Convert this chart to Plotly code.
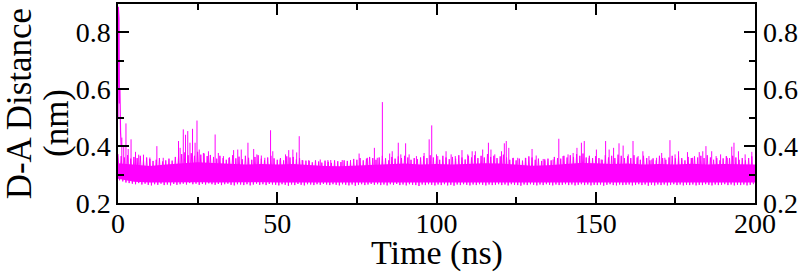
import plotly.graph_objects as go

# ---- data ----
# initial transient (ns, nm)
t_start = [0.0, 0.1, 0.2, 0.3, 0.45, 0.6, 0.8, 1.0]
v_start = [0.50, 0.89, 0.62, 0.85, 0.55, 0.60, 0.45, 0.40]

# upper fringe of the trace, one value per ns (t = 0..199)
upper = [
    .372, .365, .360, .368, .356, .362, .358, .366, .352, .360,
    .355, .348, .352, .358, .346, .350, .356, .349, .362, .365,
    .372, .378, .368, .375, .366, .380, .370, .374, .365, .369,
    .362, .356, .366, .358, .352, .360, .368, .357, .363, .354,
    .366, .359, .352, .362, .368, .356, .351, .360, .366, .357,
    .352, .358, .350, .364, .360, .362, .353, .358, .350, .349,
    .348, .343, .350, .346, .342, .349, .345, .341, .350, .347,
    .344, .350, .348, .346, .355, .352, .358, .350, .356, .362,
    .358, .352, .360, .366, .357, .350, .362, .356, .364, .358,
    .366, .360, .352, .358, .354, .360, .365, .358, .368, .360,
    .358, .352, .366, .360, .354, .362, .356, .368, .360, .353,
    .366, .360, .368, .358, .366, .360, .372, .362, .366, .358,
    .364, .370, .360, .352, .358, .350, .356, .349, .358, .364,
    .360, .352, .356, .348, .350, .356, .350, .362, .358, .356,
    .366, .360, .368, .362, .372, .366, .374, .360, .366, .358,
    .365, .358, .352, .368, .360, .366, .358, .370, .366, .358,
    .364, .358, .368, .360, .352, .366, .358, .350, .357, .350,
    .366, .358, .352, .360, .366, .357, .364, .358, .350, .362,
    .358, .364, .360, .366, .358, .368, .360, .352, .358, .350,
    .357, .365, .358, .366, .360, .352, .358, .350, .358, .364,
]

# lower fringe of the trace, one value per ns (t = 0.5..199.5)
lower = [
    .280, .276, .272, .270, .268, .266, .270, .265, .268, .264,
    .262, .266, .264, .268, .263, .265, .262, .267, .264, .266,
    .268, .265, .270, .266, .268, .264, .267, .265, .269, .266,
    .264, .267, .263, .266, .268, .264, .262, .266, .265, .263,
    .266, .262, .265, .268, .264, .266, .263, .267, .265, .264,
    .262, .266, .264, .261, .265, .263, .267, .264, .262, .266,
    .265, .263, .266, .264, .267, .265, .263, .266, .264, .262,
    .266, .264, .262, .265, .261, .264, .266, .263, .265, .267,
    .264, .266, .263, .265, .262, .266, .264, .267, .263, .265,
    .262, .266, .264, .263, .260, .265, .263, .266, .264, .262,
    .265, .263, .266, .262, .264, .261, .265, .263, .266, .264,
    .262, .265, .263, .266, .264, .262, .265, .263, .264, .266,
    .263, .265, .262, .266, .264, .263, .261, .265, .263, .266,
    .264, .262, .265, .263, .266, .264, .262, .265, .263, .264,
    .266, .263, .265, .262, .264, .266, .263, .265, .262, .264,
    .263, .265, .261, .264, .266, .263, .262, .265, .263, .264,
    .265, .262, .264, .266, .263, .265, .261, .264, .262, .265,
    .263, .265, .262, .264, .266, .263, .265, .262, .264, .263,
    .265, .262, .264, .263, .266, .264, .262, .265, .263, .264,
    .266, .263, .265, .262, .264, .263, .265, .262, .264, .266,
]

# dense core of the band, every 5 ns (t = 0..200)
core_t = [5 * k for k in range(41)]
core_lo = [0.285, 0.275, 0.272, 0.273, 0.274, 0.273, 0.272, 0.273, 0.272, 0.273,
           0.272, 0.273, 0.272, 0.272, 0.272, 0.273, 0.272, 0.273, 0.272, 0.272,
           0.272, 0.272, 0.273, 0.272, 0.272, 0.273, 0.272, 0.272, 0.273, 0.272,
           0.272, 0.272, 0.273, 0.272, 0.272, 0.273, 0.272, 0.272, 0.273, 0.272, 0.272]
core_hi = [0.340, 0.335, 0.330, 0.335, 0.340, 0.343, 0.341, 0.337, 0.335, 0.337,
           0.335, 0.337, 0.333, 0.330, 0.329, 0.331, 0.335, 0.337, 0.339, 0.335,
           0.337, 0.335, 0.337, 0.340, 0.339, 0.335, 0.331, 0.333, 0.337, 0.341,
           0.340, 0.337, 0.339, 0.335, 0.337, 0.335, 0.338, 0.335, 0.337, 0.336, 0.335]

# isolated spikes: time (ns) and peak distance (nm)
spike_t = [1.2, 1.8, 2.5, 3.2, 4.1, 5.5, 6.5, 8.0, 10.0, 12.2, 14.2, 19.0, 19.5, 20.5,
           21.2, 21.9, 22.6, 23.4, 24.2, 24.8, 25.5, 26.8, 28.4, 30.5, 31.5, 33.1,
           34.8, 36.3, 37.6, 38.7, 40.8, 42.6, 43.6, 45.0, 46.1, 47.9, 48.6, 50.9,
           52.6, 53.6, 54.9, 56.1, 56.9, 57.8, 59.9, 63.5, 65.9, 66.8, 70.4, 73.0,
           75.7, 78.3, 80.5, 81.4, 83.0, 85.3, 86.1, 88.0, 88.8, 90.3, 91.4, 93.7,
           96.1, 97.7, 98.5, 100.0, 100.4, 103.0, 104.6, 105.9, 108.0, 109.8, 111.2,
           112.2, 114.5, 116.3, 117.1, 118.3, 120.4, 121.3, 121.9, 122.7, 124.1,
           125.5, 127.9, 130.0, 131.3, 133.5, 134.0, 136.6, 138.4, 139.7, 141.3,
           142.9, 144.1, 145.5, 146.4, 147.9, 150.2, 151.7, 153.1, 154.2, 155.6,
           157.3, 158.6, 160.2, 161.7, 163.3, 164.8, 166.7, 167.6, 169.1, 170.7,
           171.7, 173.3, 174.9, 176.0, 177.0, 178.8, 180.4, 182.5, 183.6, 184.6,
           186.4, 187.8, 189.2, 191.3, 192.7, 193.4, 194.8, 196.9, 199.0]
spike_v = [0.43, 0.40, 0.48, 0.39, 0.424, 0.38, 0.37, 0.37, 0.36, 0.40, 0.359, 0.418, 0.394, 0.459,
           0.44, 0.453, 0.412, 0.461, 0.412, 0.49, 0.388, 0.376, 0.382, 0.441, 0.376, 0.365,
           0.359, 0.386, 0.388, 0.388, 0.412, 0.39, 0.371, 0.367, 0.359, 0.456, 0.382, 0.353,
           0.371, 0.386, 0.388, 0.378, 0.435, 0.351, 0.351, 0.353, 0.351, 0.351, 0.351, 0.351,
           0.374, 0.359, 0.394, 0.359, 0.555, 0.374, 0.382, 0.412, 0.371, 0.41, 0.371, 0.365,
           0.376, 0.424, 0.473, 0.371, 0.365, 0.382, 0.371, 0.365, 0.386, 0.371, 0.382,
           0.382, 0.388, 0.412, 0.388, 0.371, 0.382, 0.41, 0.418, 0.394, 0.359,
           0.359, 0.359, 0.39, 0.367, 0.355, 0.355, 0.353, 0.426, 0.365, 0.371,
           0.376, 0.394, 0.412, 0.418, 0.359, 0.388, 0.353, 0.418, 0.388, 0.394,
           0.41, 0.402, 0.371, 0.418, 0.365, 0.382, 0.365, 0.353, 0.359, 0.376,
           0.359, 0.421, 0.371, 0.382, 0.353, 0.379, 0.359, 0.379, 0.382, 0.40,
           0.382, 0.365, 0.371, 0.359, 0.398, 0.412, 0.382, 0.371, 0.38]
spike_base = 0.30

x_ticks = [0, 50, 100, 150, 200]
x_labels = ["0", "50", "100", "150", "200"]
y_ticks = [0.2, 0.4, 0.6, 0.8]
y_labels = ["0.2", "0.4", "0.6", "0.8"]

# ---- build figure ----
MAG = "#ff00ff"
FONT = "Liberation Serif"
TICK_SIZE = 28

zx, zy = [], []
for i in range(len(upper)):
    zx += [i, i + 0.5]
    zy += [upper[i], lower[i]]

sx, sy = [], []
for t, v in zip(spike_t, spike_v):
    sx += [t, t, None]
    sy += [spike_base, v, None]

fig = go.Figure()
fig.add_trace(go.Scatter(x=core_t, y=core_lo, mode="lines", line=dict(width=0, color=MAG),
                         hoverinfo="skip"))
fig.add_trace(go.Scatter(x=core_t, y=core_hi, mode="lines", line=dict(width=0, color=MAG),
                         fill="tonexty", fillcolor=MAG, hoverinfo="skip"))
fig.add_trace(go.Scatter(x=zx, y=zy, mode="lines", line=dict(width=1, color=MAG)))
fig.add_trace(go.Scatter(x=sx, y=sy, mode="lines", line=dict(width=1, color=MAG)))
fig.add_trace(go.Scatter(x=t_start, y=v_start, mode="lines", line=dict(width=1.2, color=MAG)))
fig.add_trace(go.Scatter(x=[0], y=[0.2], yaxis="y2", mode="markers",
                         marker=dict(opacity=0), hoverinfo="skip"))

axis_common = dict(showgrid=False, zeroline=False, showline=True, linecolor="black",
                   linewidth=1.5, ticks="inside", tickcolor="black", tickwidth=1.5,
                   ticklen=11, automargin=False,
                   tickfont=dict(family=FONT, size=TICK_SIZE, color="black"))

fig.update_layout(
    width=800, height=272,
    margin=dict(l=118, r=45, t=4, b=69),
    plot_bgcolor="white", paper_bgcolor="white",
    showlegend=False,
    xaxis=dict(range=[0, 200], tickvals=x_ticks, ticktext=x_labels, mirror="ticks",
               ticklabelstandoff=-5,
               minor=dict(tickvals=[25, 75, 125, 175], ticks="inside", ticklen=6,
                          tickcolor="black", tickwidth=1.5),
               **axis_common),
    yaxis=dict(range=[0.2, 0.9], tickvals=y_ticks, ticktext=y_labels, mirror="ticks",
               minor=dict(tickvals=[0.3, 0.5, 0.7], ticks="inside", ticklen=6,
                          tickcolor="black", tickwidth=1.5),
               **axis_common),
    yaxis2=dict(range=[0.2, 0.9], overlaying="y", side="right", tickvals=y_ticks,
                ticktext=y_labels, showgrid=False, zeroline=False, showline=False,
                ticks="", ticklabelstandoff=7, automargin=False,
                tickfont=dict(family=FONT, size=TICK_SIZE, color="black")),
    annotations=[
        dict(text="Time (ns)", xref="paper", yref="paper", x=0.5, y=-0.25,
             xanchor="center", yanchor="middle", showarrow=False,
             font=dict(family=FONT, size=34, color="black")),
        dict(text="D-A Distance", xref="paper", yref="paper", x=-0.155, y=0.497,
             xanchor="center", yanchor="middle", textangle=-90, showarrow=False,
             font=dict(family=FONT, size=35, color="black")),
        dict(text="(nm)", xref="paper", yref="paper", x=-0.0973, y=0.402,
             xanchor="center", yanchor="middle", textangle=-90, showarrow=False,
             font=dict(family=FONT, size=35, color="black")),
    ],
)

fig.write_html("out.html", config={"displayModeBar": False},
               post_script="document.body.style.margin='0px';document.body.style.padding='0px';")
